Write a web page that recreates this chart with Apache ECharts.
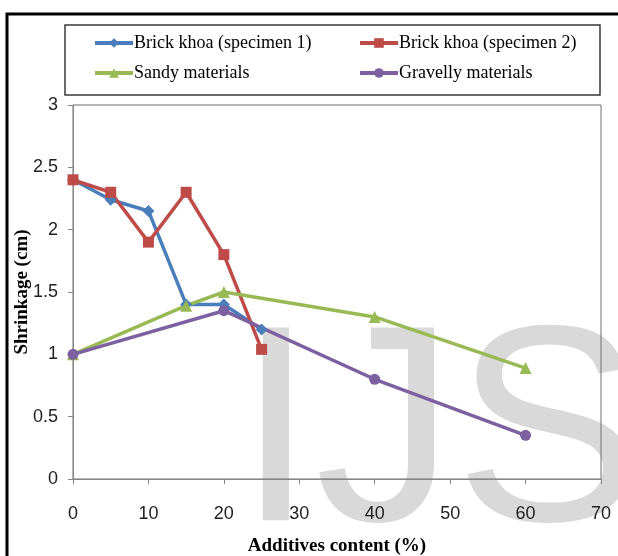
<!DOCTYPE html>
<html>
<head>
<meta charset="utf-8">
<script src="https://cdn.jsdelivr.net/npm/echarts@6/dist/echarts.min.js"></script>
<style>
  html, body { margin: 0; padding: 0; background: #fff; }
  #chart { width: 618px; height: 556px; }
</style>
</head>
<body>
<div id="chart"></div>
<script>
// values
const brickX = [0, 5, 10, 15, 20, 25]
const specimen1 = [2.4, 2.24, 2.15, 1.4, 1.4, 1.2]
const specimen2 = [2.4, 2.3, 1.9, 2.3, 1.8, 1.04]
const sandyX = [0, 15, 20, 40, 60]
const sandy = [1.0, 1.39, 1.5, 1.3, 0.89]
const gravelX = [0, 20, 40, 60]
const gravel = [1.0, 1.35, 0.8, 0.35]
const seriesNames = ['Brick khoa (specimen 1)', 'Brick khoa (specimen 2)', 'Sandy materials', 'Gravelly materials']

const pairs = (xs, ys) => xs.map((x, i) => [x, ys[i]])

const serif = '"Liberation Serif", "Times New Roman", serif'
const narrow = '"Liberation Sans Narrow", "Liberation Sans", sans-serif'

let myChart = echarts.init(document.getElementById('chart'))

const legendBase = {
  orient: 'vertical',
  top: 29,
  itemWidth: 38,
  itemHeight: 12,
  itemGap: 12,
  lineStyle: { width: 4 },
  textStyle: { fontFamily: serif, fontSize: 18, color: '#000', padding: [0, 0, 0, -4] }
}

myChart.setOption({
  backgroundColor: '#fff',
  animation: false,
  graphic: [
    {
      type: 'rect', z: -10, silent: true,
      shape: { x: 7, y: 14, width: 620, height: 560 },
      style: { fill: 'none', stroke: '#000', lineWidth: 3 }
    },
    {
      type: 'rect', z: -10, silent: true,
      shape: { x: 65, y: 25, width: 535, height: 70 },
      style: { fill: 'none', stroke: '#3a3a3a', lineWidth: 1.5 }
    },
    {
      // faint watermark of the source journal
      type: 'text', z: -5, silent: true,
      x: 237, y: 443,
      style: {
        text: 'IJS', fill: '#d9d9d9',
        font: '280px "Liberation Sans", Arial, sans-serif',
        verticalAlign: 'middle'
      }
    }
  ],
  legend: [
    Object.assign({ left: 88, data: [seriesNames[0], seriesNames[2]] }, legendBase),
    Object.assign({ left: 353, data: [seriesNames[1], seriesNames[3]] }, legendBase)
  ],
  grid: {
    left: 73, top: 105, right: 17, bottom: 77,
    containLabel: false, outerBoundsMode: 'none',
    show: true, borderColor: '#6f6f6f', borderWidth: 1, backgroundColor: 'transparent'
  },
  xAxis: {
    type: 'value', min: 0, max: 70, interval: 10,
    name: 'Additives content (%)', nameLocation: 'middle', nameGap: 58,
    nameMoveOverlap: false,
    nameTextStyle: { fontFamily: serif, fontSize: 19, fontWeight: 'bold', color: '#000' },
    axisLine: { show: true, lineStyle: { color: '#868686', width: 1 } },
    axisTick: { show: true, length: 5, lineStyle: { color: '#868686' } },
    axisLabel: { fontFamily: narrow, fontSize: 18, color: '#222', margin: 26 },
    splitLine: { show: false }
  },
  yAxis: {
    type: 'value', min: 0, max: 3, interval: 0.5,
    name: 'Shrinkage (cm)', nameLocation: 'middle', nameGap: 41,
    nameMoveOverlap: false,
    nameTextStyle: { fontFamily: serif, fontSize: 19, fontWeight: 'bold', color: '#000' },
    axisLine: { show: true, lineStyle: { color: '#868686', width: 1 } },
    axisTick: { show: true, length: 5, lineStyle: { color: '#868686' } },
    axisLabel: { fontFamily: narrow, fontSize: 18, color: '#222', margin: 15 },
    splitLine: { show: false }
  },
  series: [
    {
      name: seriesNames[0], type: 'line', data: pairs(brickX, specimen1),
      symbol: 'diamond', symbolSize: 12,
      itemStyle: { color: '#4a7ebb' }, lineStyle: { color: '#4a7ebb', width: 3.5 }
    },
    {
      name: seriesNames[1], type: 'line', data: pairs(brickX, specimen2),
      symbol: 'rect', symbolSize: 11,
      itemStyle: { color: '#be4b48' }, lineStyle: { color: '#be4b48', width: 3.5 }
    },
    {
      name: seriesNames[2], type: 'line', data: pairs(sandyX, sandy),
      symbol: 'triangle', symbolSize: 12,
      itemStyle: { color: '#98b954' }, lineStyle: { color: '#98b954', width: 3.5 }
    },
    {
      name: seriesNames[3], type: 'line', data: pairs(gravelX, gravel),
      symbol: 'circle', symbolSize: 11,
      itemStyle: { color: '#7d60a0' }, lineStyle: { color: '#7d60a0', width: 3.5 }
    }
  ]
})
</script>
</body>
</html>
